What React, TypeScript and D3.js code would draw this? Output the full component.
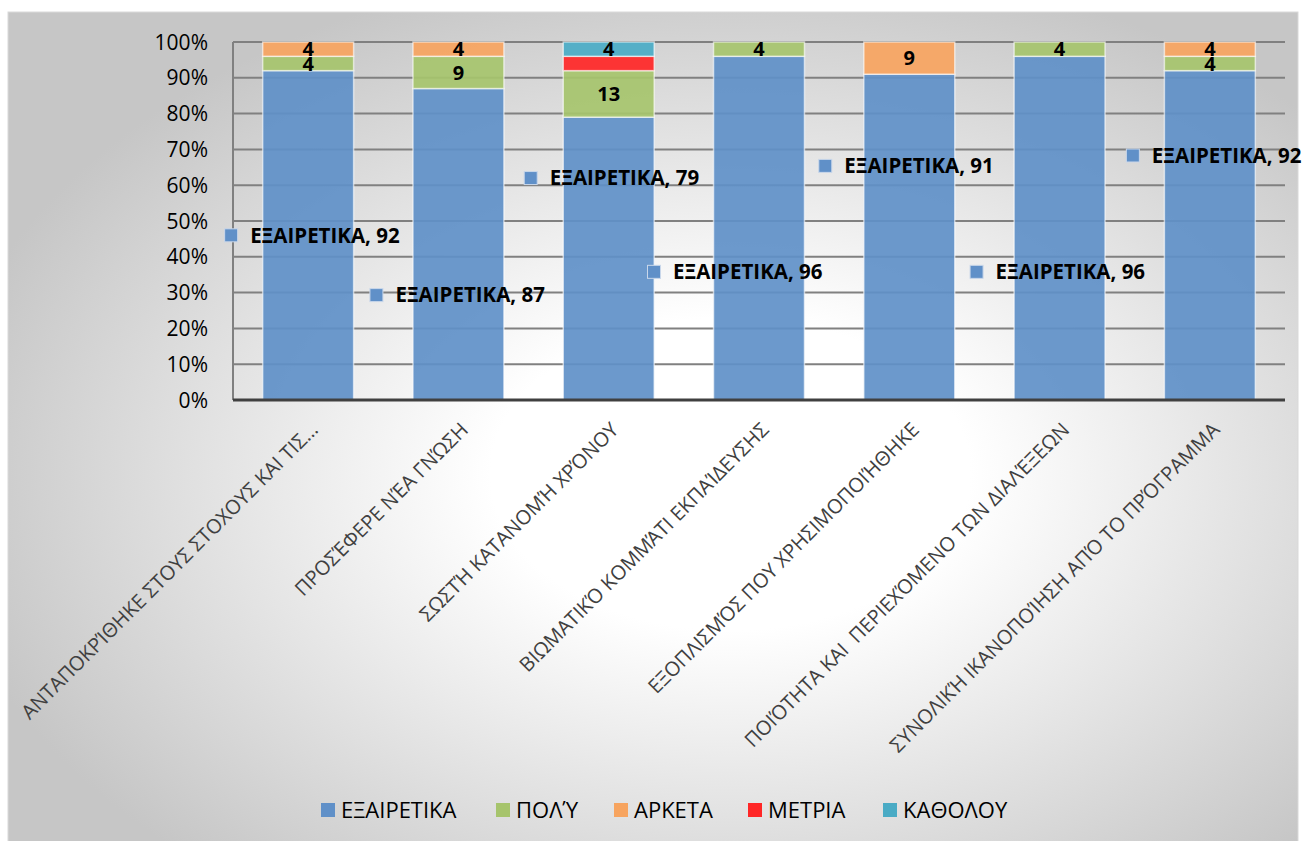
import React from "react";
import * as d3 from "d3";

const categories = [
  "ΑΝΤΑΠΟΚΡΊΘΗΚΕ ΣΤΟΥΣ ΣΤΟΧΟΥΣ ΚΑΙ ΤΙΣ…",
  "ΠΡΟΣΈΦΕΡΕ ΝΈΑ ΓΝΏΣΗ",
  "ΣΩΣΤΉ ΚΑΤΑΝΟΜΉ ΧΡΌΝΟΥ",
  "ΒΙΩΜΑΤΙΚΌ ΚΟΜΜΆΤΙ ΕΚΠΑΊΔΕΥΣΗΣ",
  "ΕΞΟΠΛΙΣΜΌΣ ΠΟΥ ΧΡΗΣΙΜΟΠΟΙΉΘΗΚΕ",
  "ΠΟΙΌΤΗΤΑ ΚΑΙ  ΠΕΡΙΕΧΌΜΕΝΟ ΤΩΝ ΔΙΑΛΈΞΕΩΝ",
  "ΣΥΝΟΛΙΚΉ ΙΚΑΝΟΠΟΊΗΣΗ ΑΠΌ ΤΟ ΠΡΌΓΡΑΜΜΑ",
];
const seriesNames = ["ΕΞΑΙΡΕΤΙΚΑ", "ΠΟΛΎ", "ΑΡΚΕΤΑ", "ΜΕΤΡΙΑ", "ΚΑΘΟΛΟΥ"];
const excellent = [92, 87, 79, 96, 91, 96, 92];
const veryGood = [4, 9, 13, 4, 0, 4, 4];
const enough = [4, 4, 0, 0, 9, 0, 4];
const moderate = [0, 0, 4, 0, 0, 0, 0];
const notAtAll = [0, 0, 4, 0, 0, 0, 0];
const yTicks = [0, 10, 20, 30, 40, 50, 60, 70, 80, 90, 100];
const colors = ["#6090C8", "#A6C46C", "#F7A45F", "#FF2626", "#4AABC5"];
// series whose segment values are printed on the bars
const labelledSeries = ["ΠΟΛΎ", "ΑΡΚΕΤΑ", "ΚΑΘΟΛΟΥ"];
// displaced label placement for "ΕΞΑΙΡΕΤΙΚΑ" labels: [y in %, x offset from bar centre]
const exLabelPlacement: [number, number][] = [
  [46, -77], [29.3, -82], [62, -78], [35.8, -105], [65.4, -84], [35.8, -83], [68.3, -77],
];

const W = 1304, H = 841;
const left = 233, right = 1285, top = 42, bottom = 400;
const FONT = "'Open Sans', 'Noto Sans', sans-serif";

export default function App() {
  const seriesArrays = [excellent, veryGood, enough, moderate, notAtAll];
  const rows = categories.map((c, i) => {
    const r: any = { cat: c };
    seriesNames.forEach((s, k) => (r[s] = seriesArrays[k][i]));
    return r;
  });
  const stacked = d3.stack<any>().keys(seriesNames)(rows);
  const x = d3.scaleBand<string>().domain(categories).range([left, right]).paddingInner(0.395).paddingOuter(0.1975);
  const y = d3.scaleLinear().domain([0, 100]).range([bottom, top]);
  const bw = x.bandwidth();

  const legendX = [321, 496, 614, 748, 883];

  return (
    <svg width={W} height={H} style={{ position: "absolute", left: 0, top: 0 }} fontFamily={FONT}>
      <defs>
        <radialGradient id="bg" cx="0.56" cy="0.55" r="0.62" gradientUnits="objectBoundingBox">
          <stop offset="0" stopColor="#ffffff" />
          <stop offset="0.3" stopColor="#ffffff" />
          <stop offset="1" stopColor="#c6c6c6" />
        </radialGradient>
      </defs>
      <rect x={0} y={0} width={W} height={H} fill="#ffffff" />
      <rect x={8} y={12} width={1290} height={840} fill="url(#bg)" stroke="#d9d9d9" strokeWidth={1} />

      {/* gridlines */}
      {yTicks.map((t) => (
        <line key={t} x1={left} x2={right} y1={y(t)} y2={y(t)} stroke="#808080" strokeWidth={2} />
      ))}
      {/* y axis line */}
      <line x1={left} x2={left} y1={top} y2={bottom} stroke="#808080" strokeWidth={2} />

      {/* bars */}
      {stacked.map((s, k) => (
        <g key={s.key}>
          {s.map((d, i) =>
            d[1] - d[0] > 0 ? (
              <rect
                key={i}
                x={x(categories[i])!}
                y={y(d[1])}
                width={bw}
                height={y(d[0]) - y(d[1])}
                fill={colors[k]}
                fillOpacity={0.92}
                stroke="#ffffff"
                strokeOpacity={0.6}
                strokeWidth={1.5}
              />
            ) : null
          )}
        </g>
      ))}

      {/* bottom axis */}
      <line x1={left} x2={right} y1={bottom} y2={bottom} stroke="#404040" strokeWidth={3} />

      {/* y tick labels */}
      {yTicks.map((t) => (
        <text key={t} x={208} y={y(t)} dy="0.36em" textAnchor="end" fontSize={21} fill="#000">
          {t}%
        </text>
      ))}

      {/* segment labels */}
      {stacked
        .filter((s) => labelledSeries.includes(s.key))
        .map((s) =>
          s.map((d, i) =>
            d[1] - d[0] > 0 ? (
              <text
                key={s.key + i}
                x={x(categories[i])! + bw / 2}
                y={(y(d[0]) + y(d[1])) / 2}
                dy="0.36em"
                textAnchor="middle"
                fontSize={20}
                fontWeight="bold"
                fill="#000"
              >
                {d[1] - d[0]}
              </text>
            ) : null
          )
        )}

      {/* displaced excellent labels */}
      {excellent.map((v, i) => {
        const cx = x(categories[i])! + bw / 2 + exLabelPlacement[i][1];
        const cy = y(exLabelPlacement[i][0]);
        return (
          <g key={"ex" + i}>
            <rect x={cx - 6.5} y={cy - 6.5} width={13} height={13} fill={colors[0]} stroke="#c9d7ea" strokeWidth={1} />
            <text x={cx + 19} y={cy} dy="0.36em" fontSize={20.5} fontWeight="bold" fill="#000">
              {seriesNames[0]}, {v}
            </text>
          </g>
        );
      })}

      {/* category labels */}
      {categories.map((c) => (
        <text
          key={c}
          transform={`translate(${x(c)! + bw / 2 + 11},${bottom + 31}) rotate(-45)`}
          textAnchor="end"
          fontSize={20}
          fill="#404040"
          style={{ whiteSpace: "pre" }}
        >
          {c}
        </text>
      ))}

      {/* legend */}
      {seriesNames.map((s, k) => (
        <g key={s}>
          <rect x={legendX[k]} y={803} width={14} height={14} fill={colors[k]} />
          <text x={legendX[k] + 20} y={810} dy="0.36em" fontSize={22} fill="#000">
            {s}
          </text>
        </g>
      ))}
    </svg>
  );
}
